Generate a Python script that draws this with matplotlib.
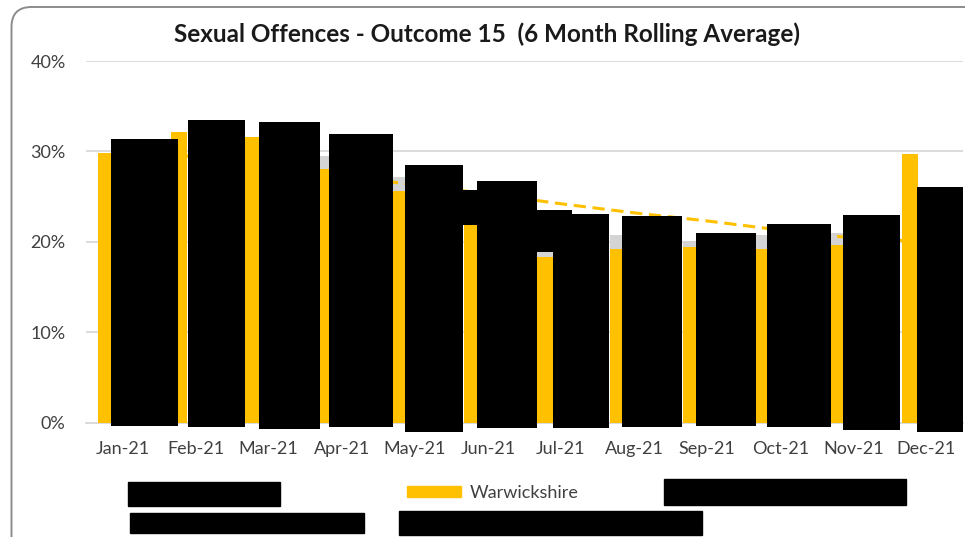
import matplotlib
matplotlib.use("Agg")
import matplotlib.pyplot as plt
from matplotlib.patches import Patch, Rectangle, FancyBboxPatch
import numpy as np

# --- data ------------------------------------------------------------------
months = ['Jan-21', 'Feb-21', 'Mar-21', 'Apr-21', 'May-21', 'Jun-21',
          'Jul-21', 'Aug-21', 'Sep-21', 'Oct-21', 'Nov-21', 'Dec-21']
warwickshire = [0.298, 0.321, 0.316, 0.281, 0.256, 0.218,
                0.183, 0.192, 0.194, 0.192, 0.196, 0.297]
# grey series sitting behind the yellow bars (mostly hidden)
comparison = [0.290, 0.305, 0.305, 0.295, 0.272, 0.235,
              0.189, 0.207, 0.201, 0.207, 0.210, 0.220]
# dashed line (mostly hidden behind the redactions)
trend = [0.300, 0.294, 0.285, 0.273, 0.263, 0.253,
         0.242, 0.232, 0.223, 0.213, 0.204, 0.200]

# redaction boxes drawn over the plot (category units / share)
red_left = [-0.160, 0.901, 1.869, 2.830, 3.870, 4.663, 4.855,
            5.676, 5.886, 6.830, 7.847, 8.814, 9.854, 10.866]
red_right = [0.765, 1.677, 2.699, 3.706, 4.663, 5.030, 5.676,
             6.150, 6.661, 7.651, 8.668, 9.689, 10.638, 11.495]
red_bottom = [-0.004, -0.005, -0.007, -0.005, -0.010, 0.2185, -0.006,
              0.189, -0.006, -0.005, -0.004, -0.005, -0.008, -0.011]
red_top = [0.314, 0.335, 0.332, 0.319, 0.285, 0.257, 0.267,
           0.235, 0.231, 0.228, 0.210, 0.220, 0.230, 0.261]

# redacted legend entries (figure pixels: left, top, right, bottom)
legend_redactions = [(128, 482, 280, 506), (664, 479, 906, 505),
                     (130, 513, 364, 533), (399, 511, 702, 535)]

yellow = '#FFC000'
grey = '#D4D4D4'

plt.rcParams['font.family'] = ['Lato', 'DejaVu Sans']

W, H = 965, 537
fig = plt.figure(figsize=(W / 100, H / 100), dpi=100)
ax = fig.add_axes([85.85 / W, (H - 422.5) / H, 877.2 / W, 361.5 / H])

x = np.arange(len(months))
bw = 0.219
ax.bar(x - bw, comparison, width=bw, color=grey, zorder=2)
ax.bar(x - bw, warwickshire, width=bw, color=yellow, zorder=3)
ax.plot(x, trend, color=yellow, lw=2.2, ls=(0, (4, 2.2)), zorder=4)

# redactions
ax.bar(red_left, np.array(red_top) - np.array(red_bottom),
       width=np.array(red_right) - np.array(red_left),
       bottom=red_bottom, align='edge', color='black', zorder=5, clip_on=False)

ax.set_xlim(-0.5, 11.5)
ax.set_ylim(0, 0.4)
ax.set_yticks([0, 0.1, 0.2, 0.3, 0.4])
ax.set_yticklabels(['0%', '10%', '20%', '30%', '40%'])
ax.set_xticks(x)
ax.set_xticklabels(months)
ax.tick_params(axis='both', length=0, labelsize=13, colors='#404040')
ax.tick_params(axis='y', pad=14.5)
ax.tick_params(axis='x', pad=13)
ax.grid(axis='y', color='#D9D9D9', lw=1.3, zorder=0)
for s in ['top', 'right', 'left']:
    ax.spines[s].set_visible(False)
ax.spines['bottom'].set_color('#D9D9D9')
ax.spines['bottom'].set_linewidth(1.3)
ax.set_axisbelow(True)

fig.text(487 / W, 1 - 34 / H, 'Sexual Offences - Outcome 15  (6 Month Rolling Average)',
         ha='center', va='center', fontsize=17.5, fontweight='bold', color='#1a1a1a')

fig.legend(handles=[Patch(color=yellow, label='Warwickshire')],
           loc='center left', bbox_to_anchor=(407 / W, 1 - 493 / H),
           frameon=False, fontsize=13, borderpad=0, borderaxespad=0,
           handlelength=3.0, handleheight=0.6, handletextpad=0.45,
           labelcolor='#404040')

for l, t, r, b in legend_redactions:
    fig.patches.append(Rectangle((l / W, 1 - b / H), (r - l) / W, (b - t) / H,
                                 transform=fig.transFigure, color='black', zorder=10))

# rounded chart frame, cut by the right and bottom edges
fig.patches.append(FancyBboxPatch((0.115, -0.5), 10.0, 5.80,
                                  boxstyle='round,pad=0,rounding_size=0.2',
                                  transform=fig.dpi_scale_trans, fill=False,
                                  ec='#8C8C8C', lw=1.4, zorder=0))

fig.savefig('out.png', dpi=100)
